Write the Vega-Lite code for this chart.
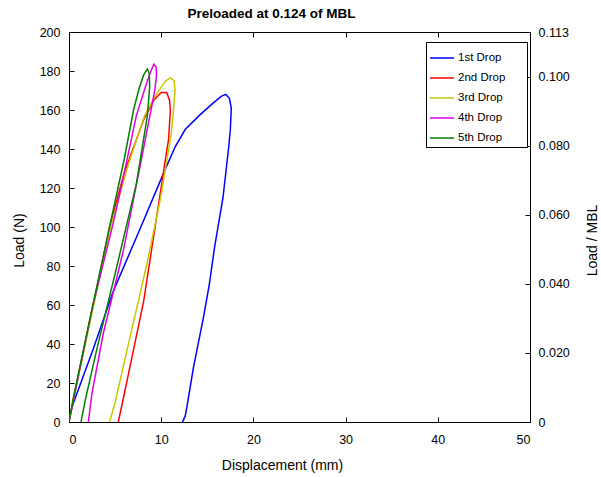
{
  "$schema": "https://vega.github.io/schema/vega-lite/v6.json",
  "width": 461,
  "height": 390,
  "autosize": {"type": "none"},
  "padding": {"left": 69, "top": 32, "right": 71, "bottom": 55},
  "background": "white",
  "title": {"text": "Preloaded at 0.124 of MBL", "fontSize": 13.5, "font": "Liberation Sans", "fontWeight": "bold", "anchor": "middle", "offset": 6, "dx": -28, "color": "black"},
  "config": {
    "font": "Liberation Sans",
    "view": {"stroke": "black", "strokeWidth": 1},
    "axis": {"grid": false, "domain": true, "domainWidth": 1, "domainColor": "black", "tickColor": "black", "labelColor": "black", "titleColor": "black", "labelFont": "Liberation Sans", "titleFont": "Liberation Sans", "labelFontSize": 12.5, "titleFontSize": 14, "titleFontWeight": "normal", "tickSize": -5, "tickWidth": 1, "labelPadding": 14}
  },
  "datasets": {
    "curves": [
      {"drop": "1st Drop", "seq": 1, "disp": 0, "load": 2},
      {"drop": "1st Drop", "seq": 2, "disp": 0.5, "load": 10},
      {"drop": "1st Drop", "seq": 3, "disp": 2.6, "load": 37},
      {"drop": "1st Drop", "seq": 4, "disp": 4.8, "load": 67},
      {"drop": "1st Drop", "seq": 5, "disp": 7.7, "load": 99},
      {"drop": "1st Drop", "seq": 6, "disp": 10.2, "load": 127},
      {"drop": "1st Drop", "seq": 7, "disp": 11.5, "load": 141},
      {"drop": "1st Drop", "seq": 8, "disp": 12.6, "load": 150},
      {"drop": "1st Drop", "seq": 9, "disp": 14.2, "load": 157.5},
      {"drop": "1st Drop", "seq": 10, "disp": 15.5, "load": 163},
      {"drop": "1st Drop", "seq": 11, "disp": 16.5, "load": 167},
      {"drop": "1st Drop", "seq": 12, "disp": 17.0, "load": 168},
      {"drop": "1st Drop", "seq": 13, "disp": 17.4, "load": 166},
      {"drop": "1st Drop", "seq": 14, "disp": 17.6, "load": 161},
      {"drop": "1st Drop", "seq": 15, "disp": 17.5, "load": 150},
      {"drop": "1st Drop", "seq": 16, "disp": 17.3, "load": 140},
      {"drop": "1st Drop", "seq": 17, "disp": 16.7, "load": 115},
      {"drop": "1st Drop", "seq": 18, "disp": 15.8, "load": 90},
      {"drop": "1st Drop", "seq": 19, "disp": 15.2, "load": 70},
      {"drop": "1st Drop", "seq": 20, "disp": 14.6, "load": 54},
      {"drop": "1st Drop", "seq": 21, "disp": 13.5, "load": 28},
      {"drop": "1st Drop", "seq": 22, "disp": 12.8, "load": 8},
      {"drop": "1st Drop", "seq": 23, "disp": 12.6, "load": 3},
      {"drop": "1st Drop", "seq": 24, "disp": 12.3, "load": 0},
      {"drop": "2nd Drop", "seq": 1, "disp": 0, "load": 0},
      {"drop": "2nd Drop", "seq": 2, "disp": 0.5, "load": 12},
      {"drop": "2nd Drop", "seq": 3, "disp": 2, "load": 46},
      {"drop": "2nd Drop", "seq": 4, "disp": 4.4, "load": 100},
      {"drop": "2nd Drop", "seq": 5, "disp": 6, "load": 128},
      {"drop": "2nd Drop", "seq": 6, "disp": 8.1, "load": 155},
      {"drop": "2nd Drop", "seq": 7, "disp": 9.2, "load": 165},
      {"drop": "2nd Drop", "seq": 8, "disp": 10, "load": 169},
      {"drop": "2nd Drop", "seq": 9, "disp": 10.6, "load": 169},
      {"drop": "2nd Drop", "seq": 10, "disp": 10.9, "load": 165},
      {"drop": "2nd Drop", "seq": 11, "disp": 11.0, "load": 160},
      {"drop": "2nd Drop", "seq": 12, "disp": 10.8, "load": 145},
      {"drop": "2nd Drop", "seq": 13, "disp": 10.6, "load": 139},
      {"drop": "2nd Drop", "seq": 14, "disp": 9.5, "load": 105},
      {"drop": "2nd Drop", "seq": 15, "disp": 8.1, "load": 62},
      {"drop": "2nd Drop", "seq": 16, "disp": 6.6, "load": 28},
      {"drop": "2nd Drop", "seq": 17, "disp": 5.8, "load": 10},
      {"drop": "2nd Drop", "seq": 18, "disp": 5.35, "load": 0},
      {"drop": "3rd Drop", "seq": 1, "disp": 0, "load": 0},
      {"drop": "3rd Drop", "seq": 2, "disp": 0.5, "load": 12},
      {"drop": "3rd Drop", "seq": 3, "disp": 2, "load": 45},
      {"drop": "3rd Drop", "seq": 4, "disp": 4.4, "load": 98},
      {"drop": "3rd Drop", "seq": 5, "disp": 6.5, "load": 133},
      {"drop": "3rd Drop", "seq": 6, "disp": 8.2, "load": 157},
      {"drop": "3rd Drop", "seq": 7, "disp": 9.2, "load": 166},
      {"drop": "3rd Drop", "seq": 8, "disp": 9.9, "load": 171},
      {"drop": "3rd Drop", "seq": 9, "disp": 10.5, "load": 175},
      {"drop": "3rd Drop", "seq": 10, "disp": 11.0, "load": 176.5},
      {"drop": "3rd Drop", "seq": 11, "disp": 11.4, "load": 175},
      {"drop": "3rd Drop", "seq": 12, "disp": 11.5, "load": 170},
      {"drop": "3rd Drop", "seq": 13, "disp": 11.3, "load": 158},
      {"drop": "3rd Drop", "seq": 14, "disp": 11.1, "load": 148},
      {"drop": "3rd Drop", "seq": 15, "disp": 9.9, "load": 114},
      {"drop": "3rd Drop", "seq": 16, "disp": 8.4, "load": 80},
      {"drop": "3rd Drop", "seq": 17, "disp": 6.3, "load": 37},
      {"drop": "3rd Drop", "seq": 18, "disp": 5.0, "load": 10},
      {"drop": "3rd Drop", "seq": 19, "disp": 4.4, "load": 0},
      {"drop": "4th Drop", "seq": 1, "disp": 0, "load": 0},
      {"drop": "4th Drop", "seq": 2, "disp": 0.5, "load": 12},
      {"drop": "4th Drop", "seq": 3, "disp": 2.5, "load": 58},
      {"drop": "4th Drop", "seq": 4, "disp": 4.8, "load": 102},
      {"drop": "4th Drop", "seq": 5, "disp": 6, "load": 128},
      {"drop": "4th Drop", "seq": 6, "disp": 7.3, "load": 157},
      {"drop": "4th Drop", "seq": 7, "disp": 8.3, "load": 172},
      {"drop": "4th Drop", "seq": 8, "disp": 8.8, "load": 179},
      {"drop": "4th Drop", "seq": 9, "disp": 9.2, "load": 183.5},
      {"drop": "4th Drop", "seq": 10, "disp": 9.45, "load": 182},
      {"drop": "4th Drop", "seq": 11, "disp": 9.5, "load": 178},
      {"drop": "4th Drop", "seq": 12, "disp": 9.3, "load": 170},
      {"drop": "4th Drop", "seq": 13, "disp": 9.1, "load": 165},
      {"drop": "4th Drop", "seq": 14, "disp": 7.7, "load": 131},
      {"drop": "4th Drop", "seq": 15, "disp": 5.9, "load": 88},
      {"drop": "4th Drop", "seq": 16, "disp": 3.7, "load": 45},
      {"drop": "4th Drop", "seq": 17, "disp": 2.5, "load": 15},
      {"drop": "4th Drop", "seq": 18, "disp": 2.1, "load": 0},
      {"drop": "5th Drop", "seq": 1, "disp": 0, "load": 0},
      {"drop": "5th Drop", "seq": 2, "disp": 0.5, "load": 13},
      {"drop": "5th Drop", "seq": 3, "disp": 2.5, "load": 58},
      {"drop": "5th Drop", "seq": 4, "disp": 4.4, "load": 100},
      {"drop": "5th Drop", "seq": 5, "disp": 6, "load": 135},
      {"drop": "5th Drop", "seq": 6, "disp": 7.0, "load": 160},
      {"drop": "5th Drop", "seq": 7, "disp": 7.6, "load": 171},
      {"drop": "5th Drop", "seq": 8, "disp": 8.1, "load": 178},
      {"drop": "5th Drop", "seq": 9, "disp": 8.5, "load": 181},
      {"drop": "5th Drop", "seq": 10, "disp": 8.7, "load": 179},
      {"drop": "5th Drop", "seq": 11, "disp": 8.75, "load": 172},
      {"drop": "5th Drop", "seq": 12, "disp": 8.5, "load": 157},
      {"drop": "5th Drop", "seq": 13, "disp": 7.3, "load": 122},
      {"drop": "5th Drop", "seq": 14, "disp": 5.2, "load": 80},
      {"drop": "5th Drop", "seq": 15, "disp": 3.0, "load": 37},
      {"drop": "5th Drop", "seq": 16, "disp": 1.8, "load": 12},
      {"drop": "5th Drop", "seq": 17, "disp": 1.3, "load": 0}
    ]
  },
  "data": {"name": "curves"},
  "layer": [
    {
      "mark": {"type": "line", "strokeWidth": 1.5, "clip": true},
      "encoding": {
        "x": {"field": "disp", "type": "quantitative", "scale": {"domain": [0, 50], "nice": false}, "axis": {"orient": "bottom", "values": [0, 10, 20, 30, 40, 50], "labelPadding": 16, "title": "Displacement (mm)", "titleX": 213, "titleY": 43, "titleBaseline": "middle"}},
        "y": {"field": "load", "type": "quantitative", "scale": {"domain": [0, 200], "nice": false}, "axis": {"orient": "left", "values": [0, 20, 40, 60, 80, 100, 120, 140, 160, 180, 200], "title": "Load (N)", "titleX": -50, "titleY": 208, "titleAlign": "center", "titleBaseline": "middle", "titleAngle": -90}},
        "color": {"field": "drop", "type": "nominal", "scale": {"domain": ["1st Drop", "2nd Drop", "3rd Drop", "4th Drop", "5th Drop"], "range": ["#0000ff", "#ff0000", "#c8c800", "#e000e0", "#008000"]},
          "legend": {"title": null, "orient": "none", "legendX": 357, "legendY": 10, "strokeColor": "black", "fillColor": "white", "padding": 3, "symbolType": "stroke", "symbolSize": 576, "symbolStrokeWidth": 1.5, "labelFontSize": 11.5, "labelFont": "Liberation Sans", "labelColor": "black", "labelOffset": 3, "rowPadding": 1, "cornerRadius": 0, "labelExpr": "datum.label + '\u2800\u2800'"}},
        "order": {"field": "seq", "type": "quantitative"}
      }
    },
    {
      "mark": {"type": "line", "opacity": 0},
      "encoding": {
        "x": {"field": "disp", "type": "quantitative", "scale": {"domain": [0, 50], "nice": false}, "axis": {"orient": "top", "values": [0, 10, 20, 30, 40, 50], "labels": false, "title": null}},
        "y": {"field": "load", "type": "quantitative", "scale": {"domain": [0, 200], "nice": false}, "axis": {"orient": "right", "values": [0, 35.398, 70.796, 106.195, 141.593, 176.991, 200], "labelPadding": 13, "labelExpr": "datum.value == 0 ? '0' : format(datum.value * 0.113 / 200, '.3f')", "title": "Load / MBL", "titleX": 62, "titleY": 208, "titleAlign": "center", "titleBaseline": "middle", "titleAngle": -90}},
        "detail": {"field": "drop", "type": "nominal"},
        "order": {"field": "seq", "type": "quantitative"}
      }
    }
  ],
  "resolve": {"scale": {"y": "independent"}, "axis": {"x": "independent"}}
}
